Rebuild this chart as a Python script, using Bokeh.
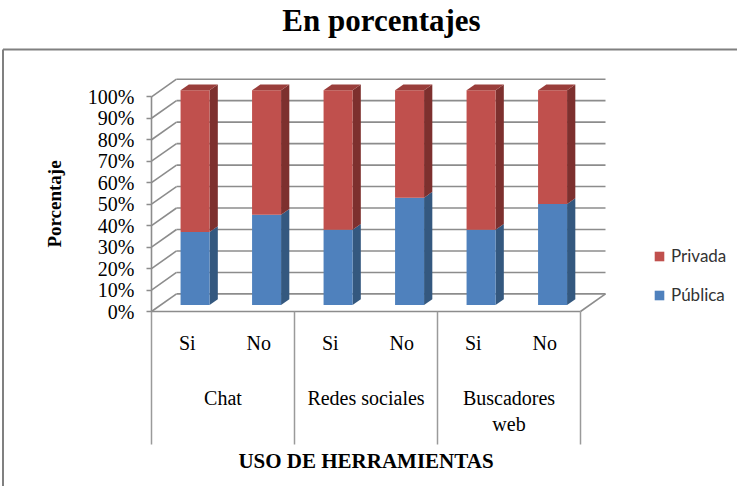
from bokeh.plotting import figure
from bokeh.models import Range1d, LinearAxis, FixedTicker, Legend, LegendItem
from bokeh.core.properties import value
from bokeh.embed import file_html
from bokeh.resources import INLINE

# ---------------- data ----------------
chart_title = "En porcentajes"
groups = ["Chat", "Redes sociales", "Buscadores\nweb"]
answers = ["Si", "No", "Si", "No", "Si", "No"]
publica = [34, 42, 35, 50, 35, 47]
privada = [66, 58, 65, 50, 65, 53]
series_names = ["Privada", "Pública"]
y_ticks = [0, 10, 20, 30, 40, 50, 60, 70, 80, 90, 100]
y_tick_labels = ["0%", "10%", "20%", "30%", "40%", "50%", "60%", "70%", "80%", "90%", "100%"]
y_title = "Porcentaje"
x_title = "USO DE HERRAMIENTAS"

# ---------------- layout (pixels of the page) ----------------
PAGE_OFF = 8
W, H = 737, 486
AX_X = 159.0      # page x of the front value axis (slot 0)
SLOT = 71.5       # px per category slot
BASE_Y = 319.0    # page y of 0 % on the front plane
PPU = 2.147       # px per percent
DEPTH_PX = (25.0, 17.6)

def X(px):
    return (px - AX_X) / SLOT

def Y(py):
    return (BASE_Y - py) / PPU

DX = DEPTH_PX[0] / SLOT
DY = DEPTH_PX[1] / PPU
F0, F1 = 0.37, 0.70
BAR_W = 29.0 / SLOT
BAR_C = 0.48

RED, RED_SIDE, RED_TOP = "#C0504D", "#7D302E", "#9A3E3B"
BLUE, BLUE_SIDE = "#4F81BD", "#34587F"
GRID = "#8C8C8C"
FONT_SERIF = "Liberation Serif"

p = figure(width=W, height=H, output_backend="svg", toolbar_location=None,
           x_range=Range1d(X(PAGE_OFF), X(PAGE_OFF + W)),
           y_range=Range1d(Y(PAGE_OFF + H), Y(PAGE_OFF)),
           x_axis_location=None, y_axis_location=None, min_border=0)
p.outline_line_color = None
p.xgrid.visible = False
p.ygrid.visible = False
p.background_fill_color = "white"
p.border_fill_color = "white"

n = len(answers)

# outer box (left + top edges; the rest runs off the page)
p.segment(x0=[X(10.5), X(10.5)], y0=[Y(57), Y(57)], x1=[X(10.5), X(800)], y1=[Y(800), Y(57)],
          line_color="#808080", line_width=2)

# side wall and back wall gridlines
p.segment(x0=[0] * len(y_ticks), y0=y_ticks, x1=[DX] * len(y_ticks), y1=[v + DY for v in y_ticks],
          line_color=GRID, line_width=1.6)
p.segment(x0=[DX] * len(y_ticks), y0=[v + DY for v in y_ticks], x1=[n + DX] * len(y_ticks),
          y1=[v + DY for v in y_ticks], line_color=GRID, line_width=1.6)
# floor front and right edges
p.segment(x0=[0, n], y0=[0, 0], x1=[n, n + DX], y1=[0, DY], line_color=GRID, line_width=1.6)

# table separators below the floor
per_group = n // len(groups)
sep_x = [g * per_group for g in range(len(groups) + 1)]
p.segment(x0=sep_x, y0=[0] * len(sep_x), x1=sep_x, y1=[Y(452)] * len(sep_x),
          line_color="#9A9A9A", line_width=1.5)

# bars
def faces(bottoms, tops):
    fl, fr, fb, ft, sx, sy = [], [], [], [], [], []
    for i in range(n):
        xl = i + BAR_C - BAR_W / 2
        xr = xl + BAR_W
        y0, y1 = bottoms[i], tops[i]
        fl.append(xl + F0 * DX); fr.append(xr + F0 * DX)
        fb.append(y0 + F0 * DY); ft.append(y1 + F0 * DY)
        sx.append([xr + F0 * DX, xr + F1 * DX, xr + F1 * DX, xr + F0 * DX])
        sy.append([y0 + F0 * DY, y0 + F1 * DY, y1 + F1 * DY, y1 + F0 * DY])
    return fl, fr, fb, ft, sx, sy

zeros = [0] * n
pub_top = publica
priv_top = [a + b for a, b in zip(publica, privada)]

bl, br, bb, bt, bsx, bsy = faces(zeros, pub_top)
rl, rr, rb, rt, rsx, rsy = faces(pub_top, priv_top)

p.patches(xs=bsx, ys=bsy, fill_color=BLUE_SIDE, line_color=None)
blue_front = p.quad(left=bl, right=br, bottom=bb, top=bt, fill_color=BLUE, line_color=None)
p.patches(xs=rsx, ys=rsy, fill_color=RED_SIDE, line_color=None)
red_front = p.quad(left=rl, right=rr, bottom=rb, top=rt, fill_color=RED, line_color=None)

tx, ty = [], []
for i in range(n):
    xl = i + BAR_C - BAR_W / 2
    xr = xl + BAR_W
    y1 = priv_top[i]
    tx.append([xl + F0 * DX, xr + F0 * DX, xr + F1 * DX, xl + F1 * DX])
    ty.append([y1 + F0 * DY, y1 + F0 * DY, y1 + F1 * DY, y1 + F1 * DY])
p.patches(xs=tx, ys=ty, fill_color=RED_TOP, line_color=None)

# value axis
yaxis = LinearAxis(fixed_location=0, bounds=(0, 100),
                   ticker=FixedTicker(ticks=y_ticks, minor_ticks=[]),
                   major_label_overrides=dict(zip(y_ticks, y_tick_labels)),
                   axis_label=y_title)
yaxis.axis_line_color = GRID
yaxis.axis_line_width = 1.6
yaxis.major_tick_line_color = GRID
yaxis.major_tick_line_width = 1.6
yaxis.major_tick_out = 5
yaxis.major_tick_in = 0
yaxis.minor_tick_line_color = None
yaxis.major_label_standoff = 12
yaxis.major_label_text_font = FONT_SERIF
yaxis.major_label_text_font_size = "20px"
yaxis.major_label_text_color = "black"
yaxis.axis_label_text_font = FONT_SERIF
yaxis.axis_label_text_font_style = "bold"
yaxis.axis_label_text_font_size = "19px"
yaxis.axis_label_text_color = "black"
yaxis.axis_label_standoff = 20
p.add_layout(yaxis, "left")

# category labels
p.text(x=[i + 0.5 for i in range(n)], y=[Y(350)] * n, text=answers,
       text_font=value(FONT_SERIF), text_font_size=value("20px"), text_color="black",
       text_align="center", text_baseline="middle")
p.text(x=[g * per_group + per_group / 2 for g in range(len(groups))], y=[Y(394)] * len(groups),
       text=groups, text_font=value(FONT_SERIF), text_font_size=value("20px"), text_color="black",
       text_align="center", text_baseline="top", text_line_height=1.2)
p.text(x=[n / 2], y=[Y(468)], text=[x_title], text_font=value(FONT_SERIF),
       text_font_size=value("21px"), text_font_style="bold", text_color="black",
       text_align="center", text_baseline="middle")
p.text(x=[X(389)], y=[Y(28)], text=[chart_title], text_font=value(FONT_SERIF),
       text_font_size=value("31px"), text_font_style="bold", text_color="black",
       text_align="center", text_baseline="middle")

legend = Legend(items=[LegendItem(label=series_names[0], renderers=[red_front]),
                       LegendItem(label=series_names[1], renderers=[blue_front])],
                location=(653, 181), orientation="vertical")
legend.background_fill_alpha = 0
legend.border_line_color = None
legend.label_text_font = "Lato"
legend.label_text_font_size = "17px"
legend.label_text_color = "#333333"
legend.glyph_width = 12
legend.glyph_height = 12
legend.label_height = 20
legend.label_standoff = 6
legend.spacing = 18
legend.padding = 0
legend.margin = 0
p.add_layout(legend)

open("out.html", "w").write(file_html(p, INLINE))
